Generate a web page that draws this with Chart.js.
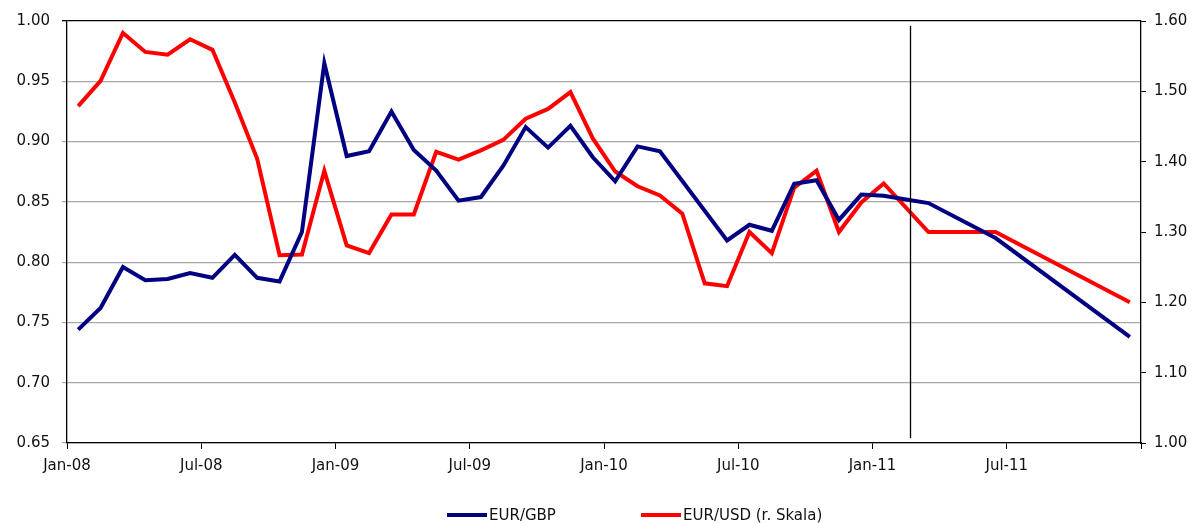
<!DOCTYPE html>
<html>
<head>
<meta charset="utf-8">
<script src="https://cdn.jsdelivr.net/npm/chart.js@4.4.1/dist/chart.umd.min.js"></script>
<style>
  html, body { margin: 0; padding: 0; background: #fff; }
  #wrap { position: relative; width: 1204px; height: 523px; }
  #legend { position: absolute; left: 0; top: 506px; width: 1204px; height: 17px;
            font-family: "DejaVu Sans", sans-serif; font-size: 15px; color: #111; }
  .item { position: absolute; top: 0; display: flex; align-items: center; white-space: nowrap; }
  .swatch { display: inline-block; width: 40px; height: 4px; margin-right: 2px; }
</style>
</head>
<body>
<div id="wrap">
  <canvas id="fxChart" width="1204" height="523"></canvas>
  <div id="legend"></div>
</div>
<script>
// month-end values Jan-08 .. Dec-11, forecasts from Mar-11 on
const monthLabels = ['Jan-08', 'Jul-08', 'Jan-09', 'Jul-09', 'Jan-10', 'Jul-10', 'Jan-11', 'Jul-11', ''];
const eurGbp = [
  0.744, 0.762, 0.796, 0.785, 0.786, 0.791, 0.787, 0.806, 0.787, 0.784, 0.825, 0.965,
  0.888, 0.892, 0.925, 0.893, 0.876, 0.851, 0.854, 0.880, 0.912, 0.895, 0.913, 0.887,
  0.867, 0.896, 0.892, null, null, 0.818, 0.831, 0.826, 0.865, 0.868, 0.835, 0.856,
  0.855, 0.852, 0.849, null, null, 0.820, null, null, null, null, null, 0.738
];
const eurUsd = [
  1.479, 1.515, 1.583, 1.556, 1.552, 1.574, 1.559, 1.484, 1.404, 1.267, 1.268, 1.387,
  1.281, 1.270, 1.325, 1.325, 1.414, 1.403, 1.416, 1.431, 1.461, 1.475, 1.499, 1.433,
  1.386, 1.365, 1.352, 1.326, 1.227, 1.223, 1.300, 1.270, 1.363, 1.387, 1.300, 1.342,
  1.369, null, 1.300, null, null, 1.300, null, null, null, null, null, 1.200
];
const seriesNames = ['EUR/GBP', 'EUR/USD (r. Skala)'];
const seriesColors = ['#000080', '#ff0000'];
const forecastStart = 37.67; // months after Jan-08

const toPoints = arr => arr.map((v, i) => ({ x: i + 0.5, y: v }));

const fontSpec = { family: 'DejaVu Sans', size: 15 };

const markerLine = {
  id: 'markerLine',
  afterDatasetsDraw(chart) {
    const { ctx, chartArea } = chart;
    const x = Math.round(chart.scales.x.getPixelForValue(forecastStart)) + 0.5;
    ctx.save();
    ctx.strokeStyle = '#000';
    ctx.lineWidth = 1.3;
    ctx.beginPath();
    ctx.moveTo(x, chartArea.top + 5);
    ctx.lineTo(x, chartArea.bottom - 5);
    ctx.stroke();
    ctx.restore();
  }
};

const chart = new Chart(document.getElementById('fxChart'), {
  type: 'line',
  data: {
    datasets: [
      { label: seriesNames[0], data: toPoints(eurGbp), yAxisID: 'y',
        borderColor: seriesColors[0], backgroundColor: seriesColors[0],
        borderWidth: 4, pointRadius: 0, spanGaps: true, tension: 0 },
      { label: seriesNames[1], data: toPoints(eurUsd), yAxisID: 'y2',
        borderColor: seriesColors[1], backgroundColor: seriesColors[1],
        borderWidth: 4, pointRadius: 0, spanGaps: true, tension: 0 }
    ]
  },
  options: {
    responsive: false,
    animation: false,
    layout: { padding: { top: 20, bottom: 50, left: 0, right: 0 } },
    plugins: {
      legend: { display: false },
      tooltip: { enabled: false }
    },
    scales: {
      x: {
        type: 'linear', min: 0, max: 48,
        afterBuildTicks: s => { s.ticks = monthLabels.map((_, i) => ({ value: i * 6 })); },
        ticks: { callback: (v, i) => monthLabels[i], color: '#111', font: fontSpec,
                 maxRotation: 0, padding: 8 },
        grid: { drawOnChartArea: false, color: '#000', tickLength: 6 },
        border: { color: '#000', width: 1.3 },
        afterFit: s => { s.height = 30; }
      },
      y: {
        position: 'left', min: 0.65, max: 1.0,
        ticks: { stepSize: 0.05, callback: v => v.toFixed(2), color: '#111', font: fontSpec, padding: 12 },
        grid: { color: c => (c.tick && c.tick.value >= 0.999 ? '#000' : '#a8a8a8'),
                lineWidth: c => (c.tick && c.tick.value >= 0.999 ? 1.3 : 1.2), tickLength: 5 },
        border: { color: '#000', width: 1.3 },
        afterFit: s => { s.width = 67; }
      },
      y2: {
        position: 'right', min: 1.0, max: 1.6,
        ticks: { stepSize: 0.1, callback: v => v.toFixed(2), color: '#111', font: fontSpec, padding: 8 },
        grid: { drawOnChartArea: false, color: '#000', tickLength: 5 },
        border: { color: '#000', width: 1.3 },
        afterFit: s => { s.width = 63; }
      }
    }
  },
  plugins: [markerLine]
});

// legend below the chart
const legendLefts = [447, 641];
const legend = document.getElementById('legend');
chart.data.datasets.forEach((ds, i) => {
  const item = document.createElement('div');
  item.className = 'item';
  item.style.left = legendLefts[i] + 'px';
  const sw = document.createElement('span');
  sw.className = 'swatch';
  sw.style.background = ds.borderColor;
  const txt = document.createElement('span');
  txt.textContent = ds.label;
  item.appendChild(sw);
  item.appendChild(txt);
  legend.appendChild(item);
});
</script>
</body>
</html>
